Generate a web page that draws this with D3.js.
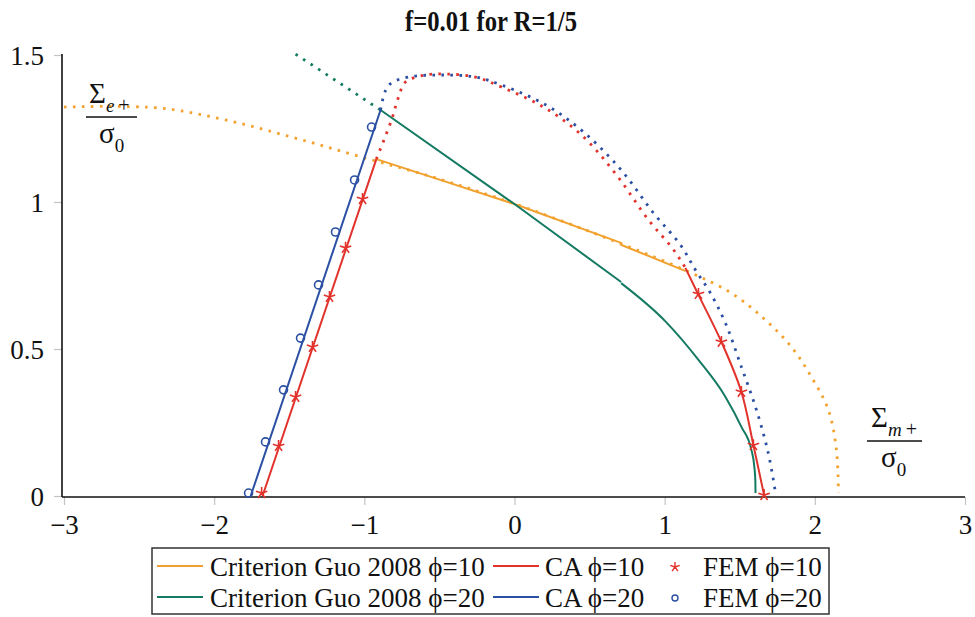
<!DOCTYPE html>
<html>
<head>
<meta charset="utf-8">
<script src="https://cdn.jsdelivr.net/npm/d3@7/dist/d3.min.js"></script>
<style>
    body { margin: 0; background: #fff; }
    svg { display: block; }
    text { font-family: "Liberation Serif", "Times New Roman", serif; fill: #111; }
</style>
</head>
<body>
<div id="chart"></div>
<script>
// ticks
var xTicks = [-3, -2, -1, 0, 1, 2, 3];
var yTicks = [0, 0.5, 1, 1.5];

// Criterion Guo 2008, phi=10 (full curve dotted, admissible part solid)
var guo10Dotted = [[-3, 1.323], [-2.37, 1.32], [-1.924, 1.279], [-1.485, 1.221], [-1.039, 1.156],
    [-0.5, 1.078], [0, 0.994], [0.71, 0.858], [1.14, 0.767], [1.445, 0.69], [1.67, 0.599],
    [1.844, 0.507], [1.977, 0.405], [2.09, 0.293], [2.144, 0.156], [2.157, 0.01]];
var guo10Solid = [[-0.92, 1.146], [-0.5, 1.076], [0, 0.993], [0.71, 0.861], [0.712, 0.854], [1.14, 0.765]];

// Criterion Guo 2008, phi=20
var guo20Dotted = [[-1.458, 1.503], [-0.892, 1.313]];
var guo20Upper = [[-0.892, 1.313], [-0.107, 1.031], [0.027, 0.983], [0.71, 0.728]];
var guo20Lower = [[0.71, 0.724], [1.005, 0.594], [1.225, 0.463], [1.405, 0.337], [1.511, 0.235],
    [1.578, 0.156], [1.597, 0.1], [1.604, 0.05], [1.605, 0.01]];

// CA phi=10
var ca10Left = [[-1.678, 0], [-0.92, 1.146]];
var ca10Dotted = [[-0.92, 1.146], [-0.819, 1.279], [-0.772, 1.357], [-0.726, 1.408], [-0.593, 1.432],
    [-0.45, 1.435], [-0.26, 1.425], [-0.087, 1.391], [0.193, 1.323], [0.446, 1.228], [0.679, 1.092],
    [0.892, 0.939], [1.045, 0.847], [1.105, 0.803], [1.138, 0.776]];
var ca10Right = [[1.138, 0.776], [1.225, 0.684], [1.378, 0.524], [1.511, 0.354], [1.591, 0.173], [1.662, 0.003]];

// CA phi=20
var ca20Left = [[-1.757, 0], [-0.892, 1.313]];
var ca20Dotted = [[-0.892, 1.313], [-0.86, 1.378], [-0.82, 1.405], [-0.706, 1.425], [-0.486, 1.432],
    [-0.26, 1.425], [-0.087, 1.398], [0.21, 1.33], [0.46, 1.238], [0.71, 1.109], [0.925, 0.963],
    [1.105, 0.854], [1.205, 0.769], [1.305, 0.69], [1.405, 0.588], [1.511, 0.439], [1.611, 0.293],
    [1.69, 0.146], [1.737, 0.014]];

// FEM points
var fem10 = [[-1.684, 0.01], [-1.571, 0.17], [-1.458, 0.337], [-1.345, 0.507], [-1.232, 0.677],
    [-1.125, 0.844], [-1.012, 1.01], [1.225, 0.687], [1.378, 0.524], [1.511, 0.354], [1.591, 0.173], [1.662, 0.003]];
var fem20 = [[-1.771, 0.01], [-1.658, 0.184], [-1.538, 0.361], [-1.425, 0.537], [-1.305, 0.718],
    [-1.192, 0.898], [-1.065, 1.075], [-0.952, 1.255]];

var colors = { orange: "#f2a12e", green: "#147a62", red: "#e2322c", blue: "#2a4fa3" };

var width = 975, height = 617;

var svg = d3.select("#chart").append("svg")
    .attr("width", width)
    .attr("height", height);

var x = d3.scaleLinear().domain([-3, 3]).range([64, 965]);
var y = d3.scaleLinear().domain([0, 1.5]).range([496, 55]);

// title (condensed bold serif)
svg.append("text")
    .attr("x", 491)
    .attr("y", 31)
    .attr("text-anchor", "middle")
    .attr("font-size", "30px")
    .attr("font-weight", "bold")
    .attr("textLength", 172)
    .attr("lengthAdjust", "spacingAndGlyphs")
    .text("f=0.01 for R=1/5");

// axes
var xAxis = svg.append("g")
    .attr("transform", "translate(0,497)")
    .call(d3.axisBottom(x).tickValues(xTicks).tickSize(8).tickPadding(10)
        .tickFormat(function(d){ return d < 0 ? "\u2212" + Math.abs(d) : d; }));
var yAxis = svg.append("g")
    .attr("transform", "translate(62,0)")
    .call(d3.axisLeft(y).tickValues(yTicks).tickSize(8).tickPadding(10)
        .tickFormat(function(d){ return d; }));

[xAxis, yAxis].forEach(function(g){
    g.select(".domain").remove();
    g.selectAll(".tick line").attr("stroke", "#c4c4c4").attr("stroke-width", 1.2);
    g.selectAll(".tick text")
        .style("font-family", "'Liberation Serif', serif")
        .style("font-size", "27px")
        .style("fill", "#111");
});
yAxis.selectAll(".tick text").attr("dy", "0.34em");

svg.append("line").attr("x1", 62).attr("x2", 62).attr("y1", 54).attr("y2", 497)
    .attr("stroke", "#111").attr("stroke-width", 1.6);
svg.append("line").attr("x1", 62).attr("x2", 965).attr("y1", 497).attr("y2", 497)
    .attr("stroke", "#111").attr("stroke-width", 1.6);

var straight = d3.line().x(function(d){ return x(d[0]); }).y(function(d){ return y(d[1]); });
var smooth = d3.line().x(function(d){ return x(d[0]); }).y(function(d){ return y(d[1]); })
    .curve(d3.curveCatmullRom.alpha(0.5));
var monotone = d3.line().x(function(d){ return x(d[0]); }).y(function(d){ return y(d[1]); })
    .curve(d3.curveMonotoneX);

function drawCurve(data, color, dotted, gen)
{
    svg.append("path")
        .datum(data)
        .attr("fill", "none")
        .attr("stroke", color)
        .attr("stroke-width", dotted ? 2.8 : 2)
        .attr("stroke-dasharray", dotted ? "2.6,6.4" : null)
        .attr("d", gen);
}

drawCurve(guo10Dotted, colors.orange, true, smooth);
drawCurve(guo10Solid, colors.orange, false, straight);
drawCurve(guo20Dotted, colors.green, true, straight);
drawCurve(guo20Upper, colors.green, false, straight);
drawCurve(guo20Lower, colors.green, false, monotone);
drawCurve(ca10Dotted, colors.red, true, smooth);
drawCurve(ca10Left, colors.red, false, straight);
drawCurve(ca10Right, colors.red, false, smooth);
drawCurve(ca20Dotted, colors.blue, true, smooth);
drawCurve(ca20Left, colors.blue, false, straight);

// star mark (5 rays)
function starPath(r)
{
    var p = "";
    for(var i = 0; i < 5; i++)
    {
        var a = -Math.PI / 2 + i * 2 * Math.PI / 5;
        p += "M0,0L" + (r * Math.cos(a)).toFixed(2) + "," + (r * Math.sin(a)).toFixed(2);
    }
    return p;
}

svg.selectAll(".fem10")
    .data(fem10)
    .enter()
    .append("path")
    .attr("class", "fem10")
    .attr("transform", function(d){ return "translate(" + x(d[0]) + "," + y(d[1]) + ")"; })
    .attr("d", starPath(6))
    .attr("fill", "none")
    .attr("stroke", colors.red)
    .attr("stroke-width", 1.6);

svg.selectAll(".fem20")
    .data(fem20)
    .enter()
    .append("circle")
    .attr("class", "fem20")
    .attr("cx", function(d){ return x(d[0]); })
    .attr("cy", function(d){ return y(d[1]); })
    .attr("r", 4)
    .attr("fill", "none")
    .attr("stroke", colors.blue)
    .attr("stroke-width", 1.6);

// axis fraction labels
function fracLabel(x0, yTop, sub, lineX1, lineX2)
{
    var t1 = svg.append("text").attr("x", x0).attr("y", yTop).attr("font-size", "29px");
    t1.append("tspan").text("\u03A3");
    t1.append("tspan").attr("font-size", "19px").attr("font-style", "italic").attr("dy", 9).text(sub);
    t1.append("tspan").attr("font-size", "20px").text("\u2009+");
    svg.append("line").attr("x1", lineX1).attr("x2", lineX2)
        .attr("y1", yTop + 14).attr("y2", yTop + 14)
        .attr("stroke", "#111").attr("stroke-width", 1.6);
    var t2 = svg.append("text").attr("x", x0 + 10).attr("y", yTop + 40).attr("font-size", "29px");
    t2.append("tspan").text("\u03C3");
    t2.append("tspan").attr("font-size", "19px").attr("dy", 9).text("0");
}
fracLabel(89, 103, "e", 86, 137);
fracLabel(871, 427, "m", 867, 922);

// legend
var legend = svg.append("g");
legend.append("rect")
    .attr("x", 152).attr("y", 548).attr("width", 677).attr("height", 66)
    .attr("fill", "#fff").attr("stroke", "#333").attr("stroke-width", 1.5);

var legendItems = [
    {label: "Criterion Guo 2008 \u03D5=10", color: colors.orange, kind: "line", lx: 157, tx: 210, row: 0},
    {label: "CA \u03D5=10", color: colors.red, kind: "line", lx: 493, tx: 545, row: 0},
    {label: "FEM \u03D5=10", color: colors.red, kind: "star", lx: 675, tx: 703, row: 0},
    {label: "Criterion Guo 2008 \u03D5=20", color: colors.green, kind: "line", lx: 157, tx: 210, row: 1},
    {label: "CA \u03D5=20", color: colors.blue, kind: "line", lx: 493, tx: 545, row: 1},
    {label: "FEM \u03D5=20", color: colors.blue, kind: "circle", lx: 675, tx: 703, row: 1}
];

legendItems.forEach(function(d){
    var cy = 566 + d.row * 31;
    if(d.kind == "line")
        legend.append("line").attr("x1", d.lx).attr("x2", d.lx + 46).attr("y1", cy).attr("y2", cy)
            .attr("stroke", d.color).attr("stroke-width", 2);
    else if(d.kind == "star")
        legend.append("path").attr("transform", "translate(" + d.lx + "," + (cy + 1) + ")")
            .attr("d", starPath(5)).attr("fill", "none").attr("stroke", d.color).attr("stroke-width", 1.4);
    else
        legend.append("circle").attr("cx", d.lx).attr("cy", cy + 1).attr("r", 3)
            .attr("fill", "none").attr("stroke", d.color).attr("stroke-width", 1.4);
    legend.append("text")
        .attr("x", d.tx)
        .attr("y", cy + 10)
        .attr("font-size", "27px")
        .text(d.label);
});
</script>
</body>
</html>
